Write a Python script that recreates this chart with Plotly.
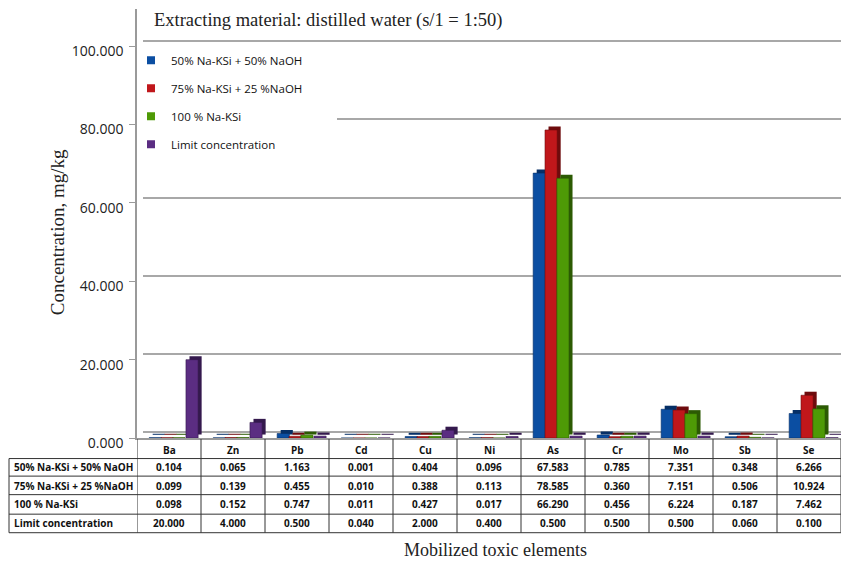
import plotly.graph_objects as go

W, H = 841, 575

elements = ["Ba", "Zn", "Pb", "Cd", "Cu", "Ni", "As", "Cr", "Mo", "Sb", "Se"]
series_names = ["50% Na-KSi + 50% NaOH", "75% Na-KSi + 25 %NaOH", "100 % Na-KSi", "Limit concentration"]
s50 = [0.104, 0.065, 1.163, 0.001, 0.404, 0.096, 67.583, 0.785, 7.351, 0.348, 6.266]
s75 = [0.099, 0.139, 0.455, 0.010, 0.388, 0.113, 78.585, 0.360, 7.151, 0.506, 10.924]
s100 = [0.098, 0.152, 0.747, 0.011, 0.427, 0.017, 66.290, 0.456, 6.224, 0.187, 7.462]
limit = [20.000, 4.000, 0.500, 0.040, 2.000, 0.400, 0.500, 0.500, 0.500, 0.060, 0.100]
y_ticks = [0, 20, 40, 60, 80, 100]

colors = ["#0b4ea2", "#c0171b", "#4e9a06", "#5b2d82"]
edge = ["#062f66", "#6e0b0d", "#2c5a03", "#34194d"]


def px(v):
    return v / W


def py(v):
    return 1 - v / H


fig = go.Figure()

# grid subplot (back wall), drawn first
fig.add_trace(go.Scatter(x=[0], y=[0], xaxis="x", yaxis="y", mode="markers",
                         marker=dict(opacity=0), showlegend=False, hoverinfo="skip"))

all_series = [s50, s75, s100, limit]
offsets = [-0.31, -0.125, 0.06, 0.265]
bw = 0.19
for k, (name, vals) in enumerate(zip(series_names, all_series)):
    # dark side/top face (pseudo 3D depth)
    fig.add_trace(go.Bar(
        x=elements, y=vals, base=0.9, xaxis="x2", yaxis="y2",
        marker=dict(color=edge[k], line=dict(width=0)),
        width=bw, offset=offsets[k] + 0.055, showlegend=False, hoverinfo="skip",
    ))
    # front face
    fig.add_trace(go.Bar(
        x=elements, y=vals, name=name, xaxis="x2", yaxis="y2",
        marker=dict(color=colors[k], line=dict(color=edge[k], width=0.6)),
        width=bw, offset=offsets[k], showlegend=False,
    ))
for k, name in enumerate(series_names):
    # legend entry with a small square icon
    fig.add_trace(go.Scatter(
        x=[None], y=[None], name=name, xaxis="x2", yaxis="y2", mode="markers",
        marker=dict(symbol="square", size=8, color=colors[k]),
        legendgroup=f"g{k}", showlegend=True,
    ))

ymax = 109.5
fig.update_layout(
    width=W, height=H,
    margin=dict(l=0, r=0, t=0, b=0),
    paper_bgcolor="white", plot_bgcolor="rgba(0,0,0,0)",
    barmode="overlay",
    xaxis=dict(domain=[px(143), 1], range=[-0.5, 10.5], visible=False),
    yaxis=dict(domain=[py(443), py(4)], range=[0, ymax], tickvals=y_ticks,
               showgrid=True, gridcolor="#a8a8a8", gridwidth=1.6,
               zeroline=True, zerolinecolor="#a8a8a8", zerolinewidth=1.6,
               showticklabels=False, showline=False, anchor="x"),
    xaxis2=dict(domain=[px(137), 1], range=[-0.5, 10.5], type="category",
                showticklabels=False, showgrid=False, showline=True,
                linecolor="#9a9a9a", linewidth=1.5, anchor="y2", ticks=""),
    yaxis2=dict(domain=[py(449), py(9)], range=[0, ymax], tickvals=y_ticks,
                tickformat=".3f", showgrid=False, zeroline=False,
                showline=True, linecolor="#9a9a9a", linewidth=1.5,
                ticks="outside", ticklen=6, tickcolor="#9a9a9a",
                ticklabelstandoff=3, ticklabelshift=5,
                tickfont=dict(family="Open Sans", size=14, color="#222"),
                anchor="x2"),
    legend=dict(x=px(131), y=py(47), xanchor="left", yanchor="top",
                bgcolor="rgba(0,0,0,0)", tracegroupgap=9, itemwidth=30,
                font=dict(family="Open Sans", size=11.5, color="#111"),
                borderwidth=0),
    showlegend=True,
)

annotations = []
shapes = []

# white patch hiding the 80-gridline behind the legend
shapes.append(dict(type="rect", xref="paper", yref="paper", x0=px(139), x1=px(337),
                   y0=py(130), y1=py(115), fillcolor="white", line=dict(width=0),
                   layer="above"))

# title
annotations.append(dict(text="Extracting material: distilled water (s/1 = 1:50)",
                        x=px(152), y=py(21), xref="paper", yref="paper",
                        xanchor="left", yanchor="middle", showarrow=False,
                        font=dict(family="Liberation Serif", size=18.5, color="#222")))
# y title
annotations.append(dict(text="Concentration, mg/kg", x=px(57), y=py(238),
                        xref="paper", yref="paper", textangle=-90, showarrow=False,
                        xanchor="center", yanchor="middle",
                        font=dict(family="Liberation Serif", size=19, color="#222")))
# x title
annotations.append(dict(text="Mobilized toxic elements", x=px(495), y=py(564),
                        xref="paper", yref="paper", showarrow=False,
                        xanchor="center", yanchor="middle",
                        font=dict(family="Liberation Serif", size=18, color="#222")))

# data table
row_lines = [470, 488, 507, 527, 546]
row_mid = [479, 498, 517, 536.5]
header_mid = 461
tfont = dict(family="Open Sans", size=10, color="#111", weight="bold")
lc = "#333"

for yl in row_lines:
    shapes.append(dict(type="line", xref="paper", yref="paper", x0=px(9), x1=1,
                       y0=py(yl), y1=py(yl), line=dict(color=lc, width=1)))
shapes.append(dict(type="line", xref="paper", yref="paper", x0=px(9), x1=px(9),
                   y0=py(470), y1=py(546), line=dict(color=lc, width=1)))
for i in range(len(elements) + 1):
    shapes.append(dict(type="line", xref="x2", yref="paper", x0=i - 0.5, x1=i - 0.5,
                       y0=py(450), y1=py(546), line=dict(color=lc, width=1)))

for i, el in enumerate(elements):
    annotations.append(dict(text=el, x=el, xref="x2", y=py(header_mid), yref="paper",
                            xanchor="center", yanchor="middle",
                            showarrow=False, font=tfont))
for r, (name, vals) in enumerate(zip(series_names, all_series)):
    annotations.append(dict(text=name, x=px(12), xref="paper", y=py(row_mid[r]),
                            yref="paper", xanchor="left", yanchor="middle",
                            showarrow=False, font=tfont))
    for el, v in zip(elements, vals):
        annotations.append(dict(text=f"{v:.3f}", x=el, xref="x2", y=py(row_mid[r]),
                                yref="paper", xanchor="center", yanchor="middle",
                                showarrow=False, font=tfont))

fig.update_layout(annotations=annotations, shapes=shapes)
fig.write_html(
    "out.html",
    config={"displayModeBar": False},
    post_script=(
        "var gd=document.getElementById('{plot_id}');"
        "gd.style.position='fixed';gd.style.top='0px';gd.style.left='0px';"
        "document.documentElement.style.margin='0';"
        "document.documentElement.style.overflow='hidden';"
        "document.documentElement.style.height='575px';"
        "document.body.style.margin='0';"
        "document.body.style.overflow='hidden';"
        "document.body.style.height='575px';"
    ),
)
